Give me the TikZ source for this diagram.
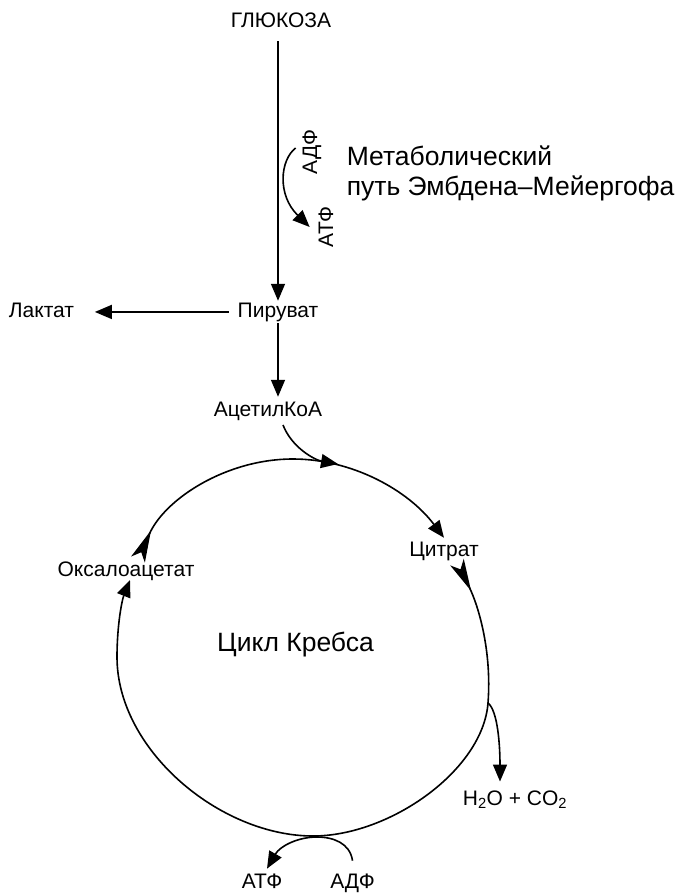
\documentclass[tikz,border=0pt]{standalone}
\usepackage{fontspec}
\setmainfont{Liberation Sans}
\usetikzlibrary{arrows.meta}

\begin{document}
\begin{tikzpicture}[
                x = 1pt, y = -1pt,
                line width = 1.6pt,
                every node/.style = {inner sep = 1pt, anchor = base,
                                     font = \fontsize{21}{25}\selectfont},
                big/.style = {font = \fontsize{26.5}{30}\selectfont},
                arr/.style = {-{Triangle[length = 17pt, width = 14pt]}},
                cyc/.style = {{Stealth[reversed, length = 32pt, width = 15pt,
                              inset = 8pt]}-{Triangle[length = 17pt, width = 14pt]}}
                ]
              \useasboundingbox (0,0) rectangle (676,893);

              % Substances
              \node (Glucose)  at (281,28)    {ГЛЮКОЗА};
              \node (Pyruvate) at (278,317)   {Пируват};
              \node (Lactate)  at (41.5,317)  {Лактат};
              \node (AcCoA)    at (268,416)   {АцетилКоА};
              \node (Citrate)  at (444,556)   {Цитрат};
              \node (Oxalo)    at (126,576)   {Оксалоацетат};
              \node (Water)    at (515,805)   {H\textsubscript{2}O + CO\textsubscript{2}};
              \node [big] (Krebs) at (295.5,651) {Цикл Кребса};
              \node [big, anchor = west, align = left] (Path) at (345,173)
                    {Метаболический\\путь Эмбдена–Мейергофа};

              % ADP / ATP
              \node [rotate = 90] (ADPup)  at (317,152) {АДФ};
              \node [rotate = 90] (ATPup)  at (333,227) {АТФ};
              \node (ATPdown) at (262,888)   {АТФ};
              \node (ADPdown) at (352.5,888) {АДФ};

              % Glycolysis
              \draw [arr, shorten <= 11pt] (Pyruvate.north |- Glucose.south)
                    -- (Pyruvate.north);
              \draw [arr] ([xshift = -5pt, yshift = 4pt]ADPup.north)
                    .. controls (280,160) and (277,195) .. ([xshift = -7pt]ATPup.north);
              \draw [arr, shorten <= 7pt, shorten >= 19pt] (Pyruvate.west)
                    -- (Pyruvate.west -| Lactate.east);
              \draw [arr, shorten >= 3pt] (Pyruvate.south) -- (Pyruvate.south |- AcCoA.north);

              % Krebs cycle
              \coordinate (Entry)  at (338,464);
              \coordinate (Branch) at (488,703);
              \draw [arr] ([xshift = 15pt, yshift = -3pt]AcCoA.south)
                    .. controls (292,448) and (315,460) .. (Entry);
              \draw [cyc] ([xshift = 12pt]Oxalo.north)
                    .. controls (165,499) and (226,459) .. (293,459)
                    .. controls (352,459) and (408,490) .. ([yshift = 2pt]Citrate.north);
              \draw [cyc] ([xshift = 13pt]Citrate.south)
                    .. controls (478,605) and (492,650) .. (Branch)
                    .. controls (483,770) and (390,836) .. (313,836)
                    .. controls (220,836) and (117,750) .. (117,657)
                    .. controls (117,625) and (122,600) .. ([xshift = 4pt, yshift = 2pt]Oxalo.south);
              \draw [arr] (Branch) .. controls +(10,8) and +(0,-35)
                    .. ([xshift = -15pt, yshift = 7pt]Water.north);
              \draw [arr] ([yshift = 11pt]ADPdown.north)
                    .. controls (350,843) and (333,837) .. (317,837)
                    .. controls (298,837) and (280,846) .. ([xshift = 5pt, yshift = 3pt]ATPdown.north);
            \end{tikzpicture}
\end{document}
